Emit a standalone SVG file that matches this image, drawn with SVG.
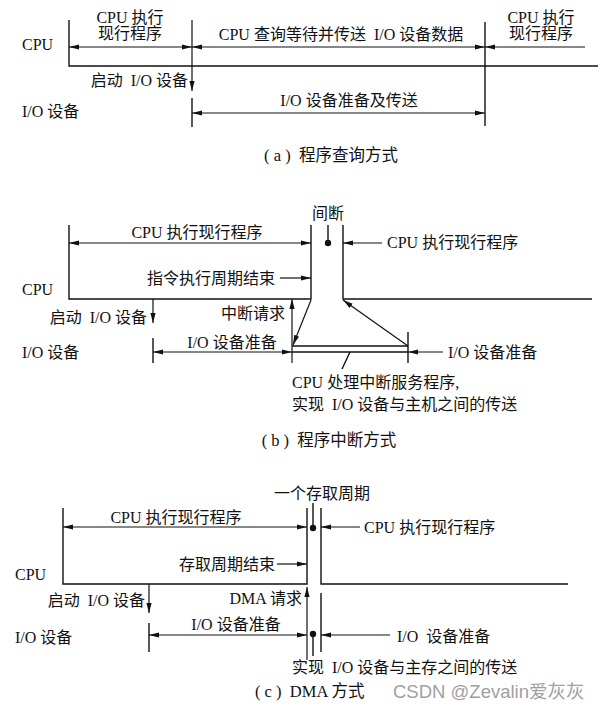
<svg xmlns="http://www.w3.org/2000/svg" width="603" height="721" viewBox="0 0 603 721">
<style>
  text { font-family: "Liberation Serif", "Noto Sans CJK SC", serif; font-size: 16px; fill: #111; }
  .m { text-anchor: middle; }
  .e { text-anchor: end; }
  .cap { font-size: 16.5px; }
  .wm { font-family: "Liberation Sans", "Noto Sans CJK SC", sans-serif; font-size: 18.5px; fill: #a0a0a0; }
  .ln { stroke: #111; stroke-width: 1.4; fill: none; }
  .ar { stroke: #111; stroke-width: 1.2; fill: none; marker-end: url(#ah); }
  .ar2 { stroke: #111; stroke-width: 1.2; fill: none; marker-start: url(#ah); marker-end: url(#ah); }
</style>
<defs>
  <marker id="ah" markerUnits="userSpaceOnUse" markerWidth="10" markerHeight="6" refX="10" refY="3" orient="auto-start-reverse">
    <path d="M0,0.4 L10,3 L0,5.6 z" fill="#111"/>
  </marker>
</defs>
<rect width="603" height="721" fill="#fff"/>

<g id="connectors">
  <!-- (a) -->
  <path class="ln" d="M69,20 V66 H598"/>
  <path class="ar2" d="M69,47 H192"/>
  <path class="ar" d="M192,20 V91"/>
  <path class="ln" d="M192,98 V127"/>
  <path class="ar2" d="M192,47 H485"/>
  <path class="ln" d="M485,22 V126"/>
  <path class="ar" d="M585,47 H485"/>
  <path class="ar2" d="M192,113 H485"/>

  <!-- (b) -->
  <path class="ln" d="M69,225 V299 H311 V225"/>
  <path class="ln" d="M343,225 V299 H592"/>
  <path class="ln" d="M328,225 V243"/>
  <circle cx="328" cy="243" r="3.2" fill="#111"/>
  <path class="ar2" d="M69,243 H311"/>
  <path class="ar" d="M280,278 H311"/>
  <path class="ar" d="M382,243 H343"/>
  <path class="ar" d="M153,299 V323"/>
  <path class="ln" d="M153,338 V363"/>
  <path class="ar2" d="M153,352 H292"/>
  <path class="ar" d="M292,363 V299"/>
  <path class="ar" d="M311,300 L293,345"/>
  <path class="ln" d="M292,346 H408"/>
  <path class="ln" d="M292,352 H408"/>
  <path class="ar" d="M443,352 H408"/>
  <path class="ln" d="M408,332 V363"/>
  <path class="ar" d="M408,346 L343,300"/>
  <path class="ln" d="M350,352 L342,369"/>

  <!-- (c) -->
  <path class="ln" d="M63,508 V584 H307 V508"/>
  <path class="ln" d="M321,508 V584 H568"/>
  <path class="ar" d="M307,660 V587"/>
  <path class="ln" d="M321,593 V652"/>
  <path class="ln" d="M313,503 V528"/>
  <circle cx="313" cy="528" r="3.2" fill="#111"/>
  <path class="ln" d="M313,634 V656"/>
  <circle cx="313" cy="634" r="3.2" fill="#111"/>
  <path class="ar2" d="M63,527 H307"/>
  <path class="ar" d="M277,564 H307"/>
  <path class="ar" d="M360,527 H321"/>
  <path class="ar" d="M149,584 V613"/>
  <path class="ln" d="M149,623 V652"/>
  <path class="ar2" d="M149,635 H307"/>
  <path class="ar" d="M390,635 H321"/>
</g>

<g id="part-a">
  <text x="22" y="50">CPU</text>
  <text class="m" x="130" y="23">CPU 执行</text>
  <text class="m" x="130" y="39">现行程序</text>
  <text class="m" x="341" y="40" xml:space="preserve">CPU 查询等待并传送  I/O 设备数据</text>
  <text class="m" x="541" y="23">CPU 执行</text>
  <text class="m" x="541" y="39">现行程序</text>
  <text class="e" x="188" y="86" xml:space="preserve">启动  I/O 设备</text>
  <text x="22" y="117">I/O 设备</text>
  <text class="m" x="349" y="106">I/O 设备准备及传送</text>
  <text class="m cap" x="331" y="161" xml:space="preserve">( a )  程序查询方式</text>
</g>

<g id="part-b">
  <text class="m" x="328" y="219">间断</text>
  <text class="m" x="197" y="238">CPU 执行现行程序</text>
  <text class="e" x="275" y="284">指令执行周期结束</text>
  <text x="387" y="248">CPU 执行现行程序</text>
  <text x="22" y="295">CPU</text>
  <text class="e" x="147" y="323" xml:space="preserve">启动  I/O 设备</text>
  <text class="e" x="285" y="319">中断请求</text>
  <text x="22" y="358">I/O 设备</text>
  <text class="m" x="232" y="348">I/O 设备准备</text>
  <text x="448" y="358">I/O 设备准备</text>
  <text x="292" y="388">CPU 处理中断服务程序,</text>
  <text x="292" y="410" xml:space="preserve">实现  I/O 设备与主机之间的传送</text>
  <text class="m cap" x="329" y="446" xml:space="preserve">( b )  程序中断方式</text>
</g>

<g id="part-c">
  <text class="e" x="370" y="499">一个存取周期</text>
  <text class="m" x="176" y="523">CPU 执行现行程序</text>
  <text class="e" x="275" y="570">存取周期结束</text>
  <text x="364" y="533">CPU 执行现行程序</text>
  <text x="15" y="580">CPU</text>
  <text class="e" x="145" y="606" xml:space="preserve">启动  I/O 设备</text>
  <text class="e" x="302" y="604">DMA 请求</text>
  <text x="15" y="643">I/O 设备</text>
  <text class="m" x="236" y="630">I/O 设备准备</text>
  <text x="397" y="642" xml:space="preserve">I/O  设备准备</text>
  <text x="292" y="673" xml:space="preserve">实现  I/O 设备与主存之间的传送</text>
  <text class="cap" x="255" y="697" xml:space="preserve">( c )  DMA 方式</text>
  <text class="wm" x="393" y="698">CSDN @Zevalin爱灰灰</text>
</g>
</svg>
